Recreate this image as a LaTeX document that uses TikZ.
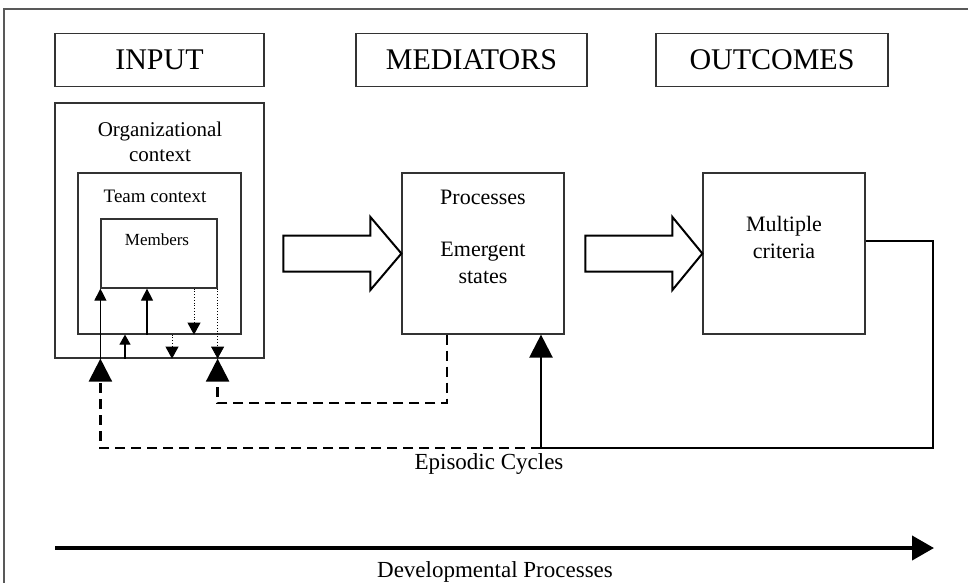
\documentclass[tikz,border=0pt]{standalone}
\usepackage{fontspec}
\setmainfont{Liberation Serif}
\usetikzlibrary{arrows.meta}
\begin{document}
\begin{tikzpicture}[x=1pt,y=-1pt,
  box/.style={draw=black!80,line width=1.2pt,inner sep=0pt,rectangle},
  title/.style={box,minimum height=53pt,font=\fontsize{30}{32}\selectfont},
  lab/.style={inner sep=0pt,align=center},
  smallsolid/.style={line width=1.1pt,-{Triangle[width=12pt,length=12pt]}},
  smalldot/.style={line width=0.8pt,dotted,-{Triangle[width=13pt,length=12pt]}},
  bigtip/.style={-{Triangle[width=23pt,length=23pt]}},
  dashline/.style={line width=2.4pt,dash pattern=on 10pt off 6pt},
  solidline/.style={line width=2.4pt},
  blockarrow/.style={draw=black,line width=2pt,fill=white,line join=miter}]
\useasboundingbox (0,0) rectangle (968,582);
% frame
\draw[black!65,line width=1.5pt] (4,600) -- (4,9) -- (990,9);
% titles
\node[title,minimum width=209pt] (input) at (159.5,60) {INPUT};
\node[title,minimum width=231pt] (med) at (471.5,60) {MEDIATORS};
\node[title,minimum width=232pt] (out) at (772,60) {OUTCOMES};
% input boxes
\node[box,minimum width=209pt,minimum height=255pt] (org) at (159.5,230.5) {};
\node[lab,font=\fontsize{21}{25}\selectfont] (orgt) at (160,142) {Organizational\\context};
\node[box,minimum width=163pt,minimum height=161pt] (team) at (159.5,253.5) {};
\node[lab,font=\fontsize{19}{22}\selectfont] (teamt) at (155,196) {Team context};
\node[box,minimum width=116pt,minimum height=69pt] (mem) at (159,253.5) {};
\node[lab,font=\fontsize{17}{20}\selectfont] (memt) at (157,240) {Members};
% mediator and outcome boxes
\node[box,minimum width=162pt,minimum height=161pt] (proc) at (483,253.5) {};
\node[lab,font=\fontsize{22}{25}\selectfont] (proct) at (483,197) {Processes};
\node[lab,font=\fontsize{22}{27}\selectfont] (emt) at (483,263) {Emergent\\states};
\node[box,minimum width=162pt,minimum height=161pt] (mult) at (784,253.5) {};
\node[lab,font=\fontsize{22}{27}\selectfont] (multt) at (784,237) {Multiple\\criteria};
% block arrows
\draw[blockarrow] (proc.west) -- ++(-31,-36.5) -- ++(0,18.5) -- ++(-87,0) -- ++(0,36) -- ++(87,0) -- ++(0,18.5) -- cycle;
\draw[blockarrow] (mult.west) -- ++(-30,-36.5) -- ++(0,18.5) -- ++(-87,0) -- ++(0,36) -- ++(87,0) -- ++(0,18.5) -- cycle;
% small arrows
\coordinate (xb) at (147,0);
\coordinate (xc) at (194,0);
\coordinate (xe) at (125,0);
\coordinate (xf) at (172,0);
\draw[smallsolid] (mem.south west |- org.south) -- (mem.south west);
\draw[smallsolid] (xb |- team.south) -- (xb |- mem.south);
\draw[smalldot] (xc |- mem.south) -- (xc |- team.south);
\draw[smalldot] (mem.south east) -- (mem.south east |- org.south);
\draw[line width=1.1pt,-{Triangle[width=11pt,length=10pt]}] (xe |- org.south) -- (xe |- team.south);
\draw[smalldot] (xf |- team.south) -- (xf |- org.south);
% feedback loops
\coordinate (xp) at (541,0);
\coordinate (cr) at (933,448);
\coordinate (d2) at (447,403);
\draw[solidline,bigtip] ([yshift=12.5pt]mult.east) -| (cr) -- (cr -| xp) -- (xp |- proc.south);
\draw[dashline,bigtip] (cr -| xp) -- (cr -| mem.south west) -- (mem.south west |- org.south);
\draw[dashline,bigtip] (d2 |- proc.south) -- (d2) -- (d2 -| mem.south east) -- (mem.south east |- org.south);
\node[lab,font=\fontsize{23}{26}\selectfont] (epi) at (489,464) {Episodic Cycles};
% developmental arrow
\coordinate (ds) at (55,548);
\coordinate (de) at (934,548);
\draw[line width=4pt,-{Triangle[width=24pt,length=22pt]}] (ds) -- (de);
\node[lab,font=\fontsize{23}{26}\selectfont] (dev) at (495,572) {Developmental Processes};
\end{tikzpicture}
\end{document}
